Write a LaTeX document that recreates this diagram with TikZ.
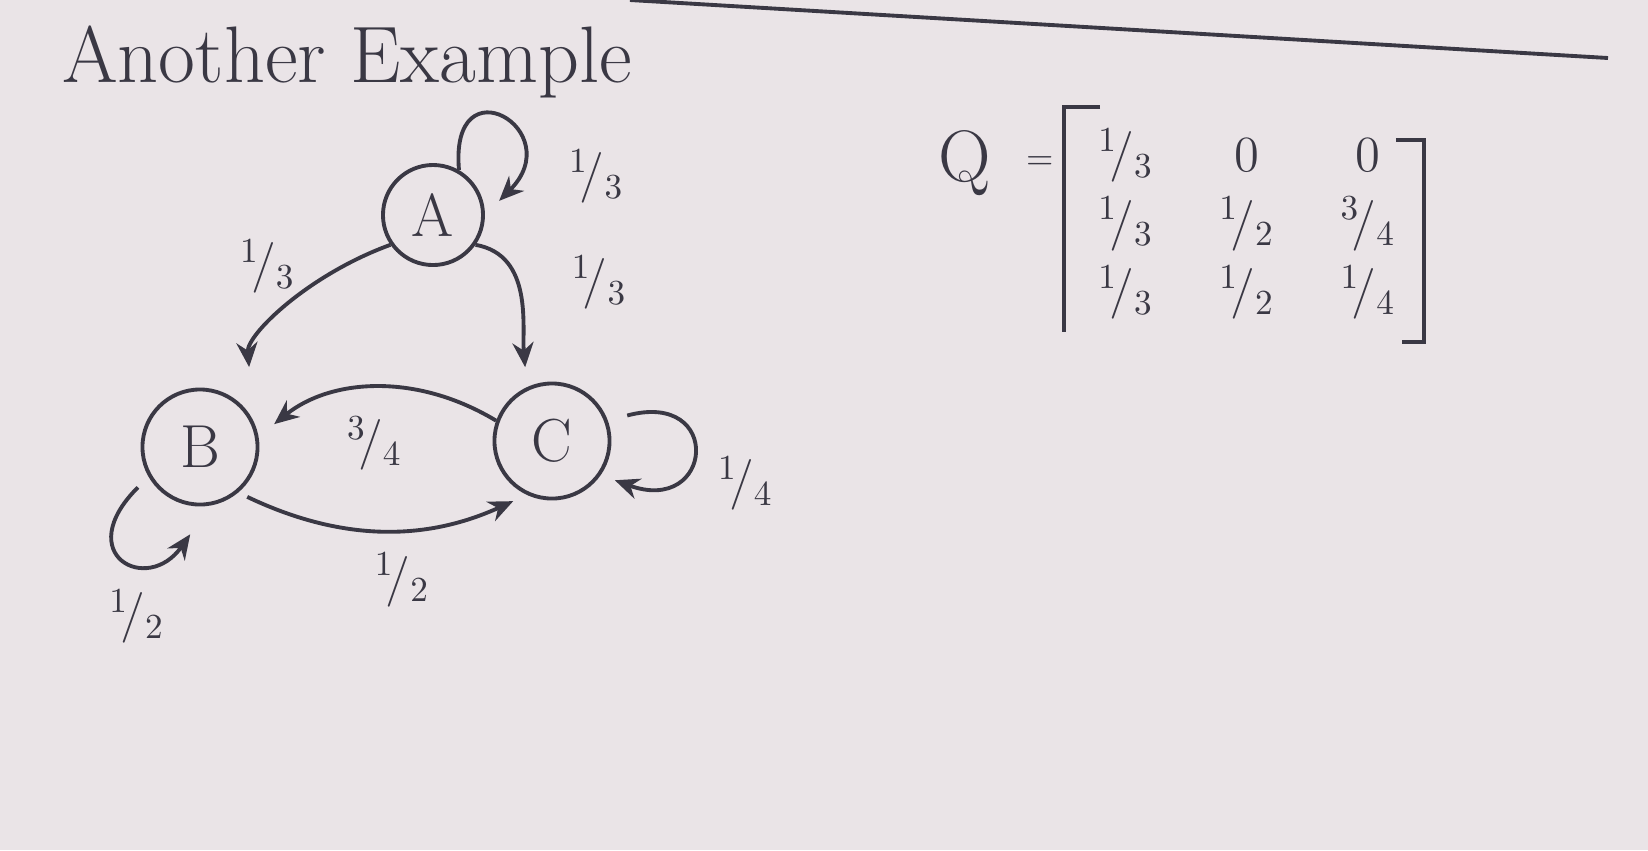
\documentclass[tikz,border=0pt]{standalone}
\usepackage{amsmath}
\usetikzlibrary{arrows.meta,positioning,matrix}
\definecolor{ink}{RGB}{58,56,68}
\definecolor{paper}{RGB}{234,228,231}
\newcommand{\slfrac}[2]{\ensuremath{{}^{#1}\!/{}_{#2}}}

\begin{document}
\begin{tikzpicture}[
            x=0.01cm, y=0.01cm,
            state/.style={circle, draw=ink, line width=1.1pt, minimum size=1.15cm, inner sep=0pt, font=\LARGE, text=ink},
            edge/.style={-{Stealth[length=7pt,width=6pt]}, draw=ink, line width=1.1pt},
            lbl/.style={text=ink, font=\Large},
        ]
            \fill[paper] (0,0) rectangle (1648,-850);
            \useasboundingbox (0,0) rectangle (1648,-850);

            \node[text=ink, font=\fontsize{22.8}{26}\selectfont] (title) at (347,-62) {Another Example};
            \coordinate (rulestart) at (630,0);
            \coordinate (ruleend) at (1608,-58);
            \draw[ink, line width=1.1pt] (rulestart) -- (ruleend);

            % states
            \node[state, minimum size=1.0cm] (A) at (433,-215) {A};
            \node[state] (B) at (200,-447) {B};
            \node[state] (C) at (552,-441) {C};

            % transitions
            \draw[edge, shorten >=0.55cm] (A.215) to[out=200, in=95]
                node[lbl, pos=0.2, left=0.35cm] {\slfrac{1}{3}} (B.25);
            \draw[edge, shorten >=0.2cm] (A.-35) to[out=-10, in=95]
                node[lbl, midway, right=0.37cm, yshift=0.15cm] {\slfrac{1}{3}} (C.115);
            \draw[edge, shorten >=0.2cm] (C.160) to[bend right=35]
                node[lbl, midway, below=4pt] {\slfrac{3}{4}} (B.10);
            \draw[edge, shorten <=0.1cm, shorten >=0.15cm] (B.-50) to[bend right=25]
                node[lbl, midway, below=0.1cm, xshift=0.2cm] {\slfrac{1}{2}} (C.-115);

            % self loops
            \draw[edge, shorten >=0.2cm] (A.60) .. controls +(95:1.1cm) and +(45:1.2cm) .. (A.0)
                node[lbl, pos=0.75, right=0.4cm, yshift=-0.2cm] {\slfrac{1}{3}};
            \draw[edge, shorten <=0.2cm, shorten >=0.15cm] (C.20) .. controls +(15:1.2cm) and +(-20:1.2cm) .. (C.-35)
                node[lbl, pos=0.85, right=0.6cm] {\slfrac{1}{4}};
            \draw[edge, shorten <=0.15cm, shorten >=0.35cm] (B.210) .. controls +(225:1.1cm) and +(235:1.1cm) .. (B.-80)
                node[lbl, pos=0.45, below=0.25cm, xshift=0.15cm] {\slfrac{1}{2}};

            % matrix Q
            \node[text=ink, font=\huge] (qname) at (965,-163) {Q};
            \node[text=ink, font=\normalsize, right=0.1cm of qname] (qeq) {=};
            \matrix (qmat) at (1247,-224) [matrix of nodes, inner sep=0pt,
                nodes={lbl, minimum width=0.8cm, minimum height=0.5cm, anchor=center},
                column sep=0.41cm, row sep=0.15cm] {
                \slfrac{1}{3} & 0 & 0 \\
                \slfrac{1}{3} & \slfrac{1}{2} & \slfrac{3}{4} \\
                \slfrac{1}{3} & \slfrac{1}{2} & \slfrac{1}{4} \\
            };
            \draw[ink, line width=1.1pt] ([xshift=0.15cm, yshift=0.21cm]qmat.north west) -| ([xshift=-0.21cm, yshift=-0.12cm]qmat.south west);
            \draw[ink, line width=1.1pt] ([xshift=-0.13cm, yshift=-0.12cm]qmat.north east) -| ([xshift=0.15cm, yshift=-0.22cm]qmat.south east)
                -- ++(-0.22cm,0);

        \end{tikzpicture}
\end{document}
